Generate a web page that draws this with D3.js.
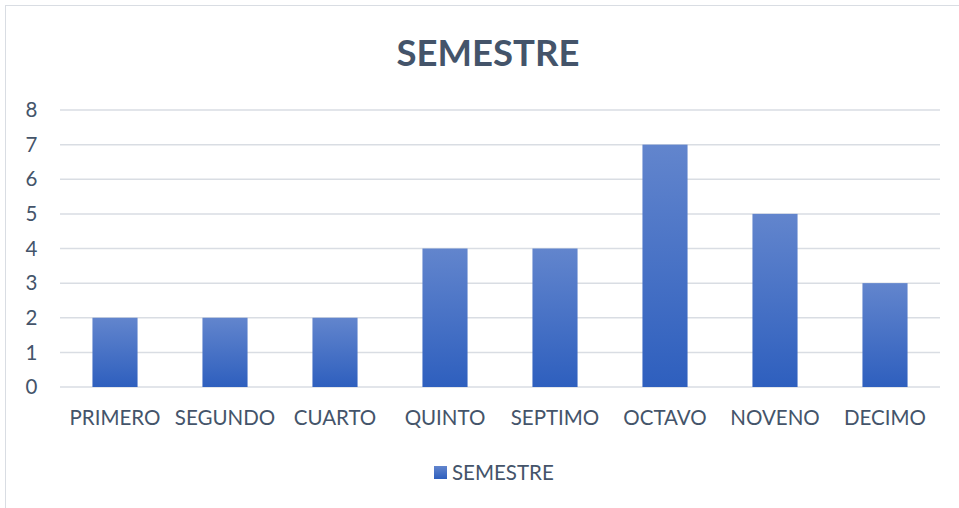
<!DOCTYPE html>
<html>
<head>
<meta charset="utf-8">
<script src="https://cdn.jsdelivr.net/npm/d3@7"></script>
<style>
  body { margin: 0; background: #fff; }
  svg { display: block; font-family: Lato, "Open Sans", sans-serif; }
</style>
</head>
<body>
<div class="plot"></div>
<script>
var categories = ['PRIMERO','SEGUNDO','CUARTO','QUINTO','SEPTIMO','OCTAVO','NOVENO','DECIMO'];
var values = [2, 2, 2, 4, 4, 7, 5, 3];
var yTicks = [0, 1, 2, 3, 4, 5, 6, 7, 8];
var seriesName = 'SEMESTRE';

var W = 959, H = 508;
var m = {t:110, r:19, b:121, l:60},
    w = W - m.l - m.r,
    h = H - m.t - m.b;

var svg = d3.select('.plot').append('svg')
    .attr('width', W)
    .attr('height', H);

var defs = svg.append('defs');
var grad = defs.append('linearGradient')
    .attr('id', 'barGrad')
    .attr('x1', 0).attr('y1', 0).attr('x2', 0).attr('y2', 1);
grad.append('stop').attr('offset', '0%').attr('stop-color', '#6285cd');
grad.append('stop').attr('offset', '100%').attr('stop-color', '#2e5fbe');

// chart border
svg.append('rect')
    .attr('x', 5.5).attr('y', 5.5)
    .attr('width', W - 5).attr('height', H - 5)
    .attr('fill', 'none')
    .attr('stroke', '#d9dde3');

svg.append('text')
    .attr('x', 488).attr('y', 66)
    .attr('text-anchor', 'middle')
    .attr('fill', '#44546a')
    .style('font-size', '36.5px')
    .style('font-weight', 'bold')
    .text('SEMESTRE');

var plot = svg.append('g')
    .attr('transform', 'translate(' + m.l + ',' + m.t + ')');

var x = d3.scaleBand().domain(categories).range([0, w]).paddingInner(0.59).paddingOuter(0.295);
var y = d3.scaleLinear().domain([0, 8]).range([h, 0]);

plot.selectAll('line.grid')
    .data(yTicks)
    .enter()
    .append('line')
    .attr('class', 'grid')
    .attr('x1', 0).attr('x2', w)
    .attr('y1', function(d){ return y(d); })
    .attr('y2', function(d){ return y(d); })
    .attr('stroke', '#d9dde3')
    .attr('stroke-width', 1.5);

plot.selectAll('text.ytick')
    .data(yTicks)
    .enter()
    .append('text')
    .attr('class', 'ytick')
    .attr('x', -28.5)
    .attr('y', function(d){ return y(d); })
    .attr('dy', '0.35em')
    .attr('text-anchor', 'middle')
    .attr('fill', '#44546a')
    .style('font-size', '20.5px')
    .text(function(d){ return d; });

plot.selectAll('rect.bar')
    .data(values)
    .enter()
    .append('rect')
    .attr('class', 'bar')
    .attr('x', function(d, i){ return x(categories[i]); })
    .attr('width', x.bandwidth())
    .attr('y', function(d){ return y(d); })
    .attr('height', function(d){ return h - y(d); })
    .attr('fill', 'url(#barGrad)');

plot.selectAll('text.xtick')
    .data(categories)
    .enter()
    .append('text')
    .attr('class', 'xtick')
    .attr('x', function(d){ return x(d) + x.bandwidth() / 2; })
    .attr('y', h + 38)
    .attr('text-anchor', 'middle')
    .attr('fill', '#44546a')
    .style('font-size', '20.5px')
    .text(function(d){ return d; });

var legend = svg.append('g').attr('transform', 'translate(434,466)');
legend.append('rect')
    .attr('x', 0).attr('y', 0)
    .attr('width', 13).attr('height', 13)
    .attr('fill', 'url(#barGrad)');
legend.append('text')
    .attr('x', 18).attr('y', 13.5)
    .attr('fill', '#44546a')
    .style('font-size', '20.5px')
    .text(seriesName);
</script>
</body>
</html>
